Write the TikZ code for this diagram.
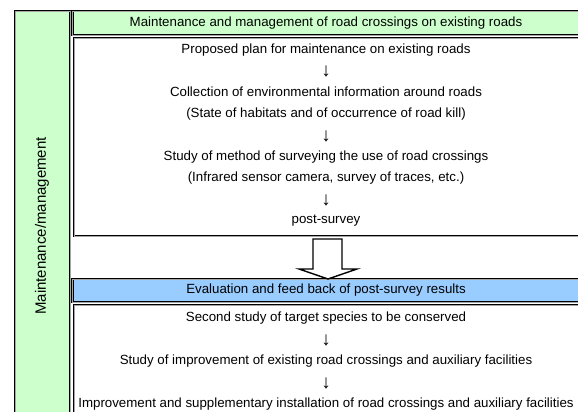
\documentclass[tikz,border=0pt]{standalone}
\usepackage{fontspec}
\setmainfont{Liberation Sans}
\usetikzlibrary{positioning}

\definecolor{mgreen}{HTML}{CCFFCC}
\definecolor{mblue}{HTML}{99CCFF}

\begin{document}
\begin{tikzpicture}[
  x = 1pt, y = -1pt,
  frame/.style = {draw=black,line width=1.1pt,double=gray!70,double distance=0.6pt},
  txt/.style = {inner sep=0pt,font=\fontsize{13.3}{15}\selectfont},
  down/.style = {inner sep=0pt,font=\fontsize{19}{20}\selectfont},
  ]
  \clip (0,0) rectangle (578,412);
  \fill[white] (0,0) rectangle (578,412);

  % frames
  \draw[frame,fill=mgreen] (15,11) rectangle (70,430);
  \draw[frame,fill=mgreen] (72.5,11) rectangle (600,35);
  \draw[frame,fill=white] (74,38) rectangle (600,236);
  \draw[frame,fill=mblue] (72.5,279) rectangle (600,302);
  \draw[frame,fill=white] (74,305) rectangle (600,430);

  \node[inner sep=0pt,font=\fontsize{15}{17}\selectfont,rotate=90] (side) at (42,226) {Maintenance/management};
  \node[txt] (head) at (326,23) {Maintenance and management of road crossings on existing roads};

  % upper box
  \node[txt] (plan) at (326,50) {Proposed plan for maintenance on existing roads};
  \node[down] (a1) at (326,71) {↓};
  \node[txt] (coll) at (326,92) {Collection of environmental information around roads};
  \node[txt] (coll2) at (326,114) {(State of habitats and of occurrence of road kill)};
  \node[down] (a2) at (326,136) {↓};
  \node[txt] (meth) at (326,157) {Study of method of surveying the use of road crossings};
  \node[txt] (meth2) at (326,178) {(Infrared sensor camera, survey of traces, etc.)};
  \node[down] (a3) at (326,200) {↓};
  \node[txt] (post) at (326,221) {post-survey};

  % hollow arrow
  \draw[line width=1.4pt,fill=white] (313,239) -- (342,239) -- (342,269) -- (357,269)
    -- (328,279) -- (299,269) -- (313,269) -- cycle;

  \node[txt] (eval) at (326,290) {Evaluation and feed back of post-survey results};

  % lower box
  \node[txt] (sec) at (326,318) {Second study of target species to be conserved};
  \node[down] (a4) at (326,340) {↓};
  \node[txt] (impr) at (326,361) {Study of improvement of existing road crossings and auxiliary facilities};
  \node[down] (a5) at (326,383) {↓};
  \node[txt] (inst) at (326,404) {Improvement and supplementary installation of road crossings and auxiliary facilities};
\end{tikzpicture}
\end{document}
